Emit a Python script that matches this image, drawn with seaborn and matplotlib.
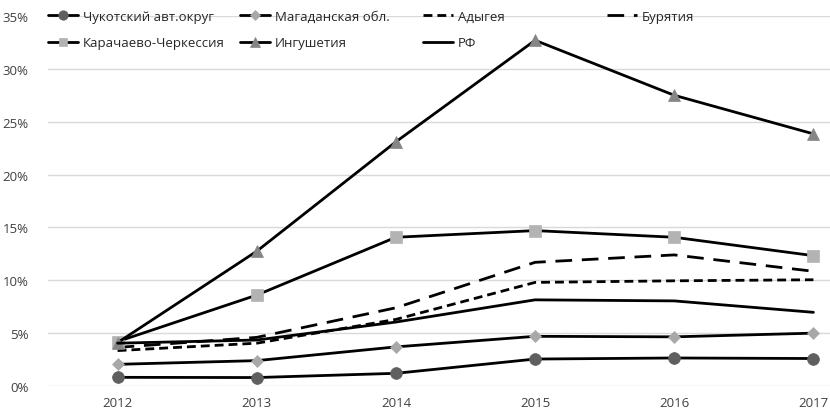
import matplotlib
matplotlib.use("Agg")
import matplotlib.pyplot as plt
import seaborn as sns
import pandas as pd
from matplotlib.ticker import PercentFormatter

years = [2012, 2013, 2014, 2015, 2016, 2017]
chukotka = [0.82, 0.80, 1.2, 2.55, 2.65, 2.6]
magadan = [2.05, 2.4, 3.7, 4.7, 4.65, 5.0]
adygea = [3.35, 4.05, 6.3, 9.8, 9.95, 10.05]
buryatia = [3.65, 4.6, 7.4, 11.7, 12.4, 10.85]
rf = [4.05, 4.35, 6.05, 8.15, 8.05, 6.97]
kchr = [4.2, 8.6, 14.07, 14.7, 14.07, 12.33]
ingush = [4.1, 12.75, 23.1, 32.7, 27.5, 23.85]

series_names = ["Чукотский авт.округ", "Магаданская обл.", "Адыгея", "Бурятия",
                "Карачаево-Черкессия", "Ингушетия", "РФ"]
series_vals = [chukotka, magadan, adygea, buryatia, kchr, ingush, rf]

styles = {
    "Чукотский авт.округ": dict(marker="o", markersize=8.5, mfc="#5f5f5f", mec="#5f5f5f", dashes=None),
    "Магаданская обл.": dict(marker="D", markersize=6, mfc="#a8a8a8", mec="#a8a8a8", dashes=None),
    "Адыгея": dict(marker=None, markersize=0, mfc="none", mec="none", dashes=(3.2, 1.8)),
    "Бурятия": dict(marker=None, markersize=0, mfc="none", mec="none", dashes=(6, 3.5)),
    "Карачаево-Черкессия": dict(marker="s", markersize=8, mfc="#b3b3b3", mec="#b3b3b3", dashes=None),
    "Ингушетия": dict(marker="^", markersize=8.5, mfc="#858585", mec="#858585", dashes=None),
    "РФ": dict(marker=None, markersize=0, mfc="none", mec="none", dashes=None),
}

sns.set_theme(style="white")
plt.rcParams["font.family"] = ["Open Sans", "DejaVu Sans"]

fig = plt.figure(figsize=(8.30, 4.14), dpi=100)
W, H = 830, 414
ax = fig.add_axes([48 / W, 1 - 387 / H, (883 - 48) / W, (387 - 17) / H])

handles = {}
for name, vals in zip(series_names, series_vals):
    st = styles[name]
    df = pd.DataFrame({"year": years, "val": [v / 100 for v in vals]})
    kw = dict(color="black", linewidth=2.0)
    if st["marker"]:
        kw.update(marker=st["marker"], markersize=st["markersize"],
                  markerfacecolor=st["mfc"], markeredgecolor=st["mec"], markeredgewidth=0.5)
    sns.lineplot(data=df, x="year", y="val", ax=ax, legend=False, zorder=3, **kw)
    line = ax.lines[-1]
    if st["dashes"]:
        line.set_dashes(st["dashes"])
    handles[name] = line

ax.set_xlim(2011.5, 2017.5)
ax.set_ylim(0, 0.35)
ax.set_yticks([i * 0.05 for i in range(8)])
ax.yaxis.set_major_formatter(PercentFormatter(1.0, decimals=0))
ax.set_xticks(years)
ax.set_xticklabels([str(y) for y in years])
ax.grid(axis="y", color="#d9d9d9", linewidth=1.0)
ax.set_axisbelow(True)
for s in ax.spines.values():
    s.set_visible(False)
ax.set_xlabel("")
ax.set_ylabel("")
ax.tick_params(axis="y", length=0, pad=14, labelsize=9.5, labelcolor="#404040")
ax.tick_params(axis="x", length=0, pad=7, labelsize=9.5, labelcolor="#404040")

cols = [(48, ["Чукотский авт.округ", "Карачаево-Черкессия"]),
        (240, ["Магаданская обл.", "Ингушетия"]),
        (423, ["Адыгея", "РФ"]),
        (607, ["Бурятия"])]
for x0, names in cols:
    leg = fig.legend([handles[n] for n in names], names, loc="upper left",
                     bbox_to_anchor=(x0 / W, 1 - 11 / H), frameon=False,
                     fontsize=9.5, borderpad=0, borderaxespad=0, handlelength=2.3,
                     handletextpad=0.35, labelspacing=1.0, markerscale=0.8,
                     labelcolor="#262626")

fig.savefig("out.png", dpi=100)
